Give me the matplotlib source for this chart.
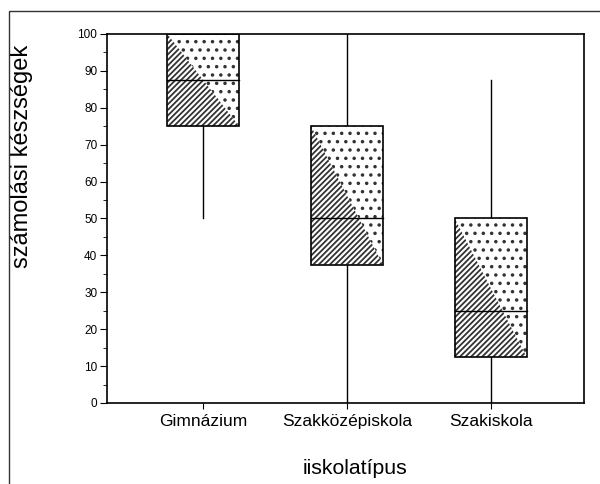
import matplotlib
matplotlib.use("Agg")
import matplotlib.pyplot as plt
from matplotlib.patches import Rectangle, Polygon
from matplotlib.ticker import MultipleLocator

plt.rcParams['font.family'] = ['Liberation Sans', 'DejaVu Sans']
plt.rcParams['hatch.linewidth'] = 1.3

# boxplot summary per school type
categories = ['Gimnázium', 'Szakközépiskola', 'Szakiskola']
whisker_low = [50, 0, 0]
q1 = [75, 37.5, 12.5]
median = [87.5, 50, 25]
q3 = [100, 75, 50]
whisker_high = [100, 100, 87.5]

fig = plt.figure(figsize=(6, 4.84), dpi=100)
ax = fig.add_axes([0.1783, 0.1674, 0.795, 0.7624])

# outer frame (cut off at right and bottom like the original)
fig.patches.append(Rectangle((9 / 600, -0.2), 1.2, 1 - 11 / 484 + 0.2,
                             transform=fig.transFigure, fill=False,
                             edgecolor='#333333', linewidth=1.0))

w = 0.5
for i, cat in enumerate(categories):
    x = i + 1
    x0, x1 = x - w / 2, x + w / 2
    # whiskers
    ax.plot([x, x], [whisker_low[i], q1[i]], color='black', lw=1, zorder=1)
    ax.plot([x, x], [q3[i], whisker_high[i]], color='black', lw=1, zorder=1)
    # dotted background of the box
    ax.add_patch(Rectangle((x0, q1[i]), w, q3[i] - q1[i], facecolor='white',
                           edgecolor='#333333', hatch='..', linewidth=0, zorder=2))
    # hatched lower-left triangle
    ax.add_patch(Polygon([(x0, q1[i]), (x0, q3[i]), (x1, q1[i])], closed=True,
                         facecolor='white', edgecolor='#333333', hatch='//////',
                         linewidth=0, zorder=3))
    # box outline and median
    ax.add_patch(Rectangle((x0, q1[i]), w, q3[i] - q1[i], fill=False,
                           edgecolor='black', linewidth=1.2, zorder=4))
    ax.plot([x0, x1], [median[i], median[i]], color='black', lw=1, zorder=5)

ax.set_xlim(0.33, 3.65)
ax.set_ylim(0, 100)
ax.set_xticks(range(1, len(categories) + 1))
ax.set_xticklabels(categories, fontsize=12.5)
ax.yaxis.set_major_locator(MultipleLocator(10))
ax.yaxis.set_minor_locator(MultipleLocator(5))
ax.tick_params(axis='y', which='major', direction='out', length=5, labelsize=8.5, pad=2)
ax.tick_params(axis='y', which='minor', direction='out', length=3)
ax.tick_params(axis='x', direction='out', length=4, pad=4)
for s in ax.spines.values():
    s.set_linewidth(1.2)

ax.set_xlabel('iiskolatípus', fontsize=15.3)
ax.set_ylabel('számolási készségek', fontsize=17)
ax.xaxis.set_label_coords(0.52, -0.152)
ax.yaxis.set_label_coords(-0.155, 0.669)

fig.savefig('out.png', dpi=100)
